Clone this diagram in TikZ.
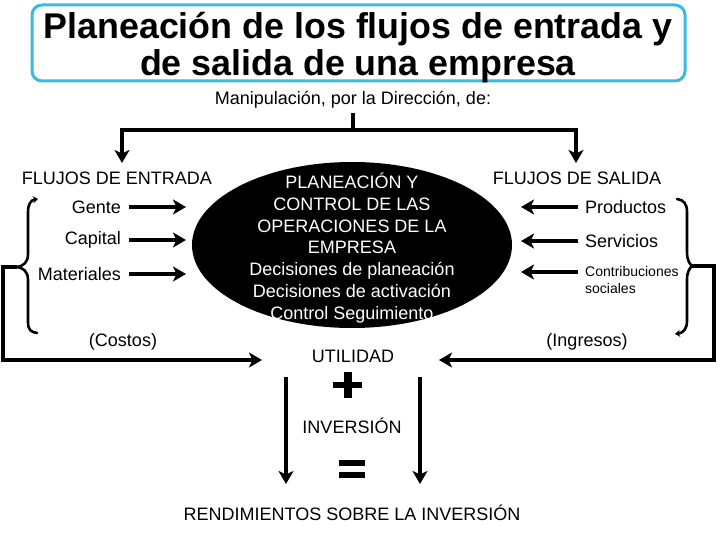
\documentclass[tikz,border=0pt]{standalone}
\usepackage{fontspec}
\setmainfont{Liberation Sans}
\usetikzlibrary{arrows.meta,shapes.geometric}
\definecolor{titlecyan}{HTML}{3BB9E0}
\begin{document}
\begin{tikzpicture}[x=1pt,y=-1pt,
  txt/.style={font=\fontsize{18}{21}\selectfont, inner sep=0pt},
  small/.style={font=\fontsize{14}{17}\selectfont, inner sep=0pt, align=left},
  conn/.style={line width=3.2pt},
  arr/.style={conn,-{Stealth[length=13pt,width=15pt,inset=3.5pt]}},
  bracestyle/.style={line width=2.6pt, line cap=round},
  solidmark/.style={fill=black}]
\useasboundingbox (0,0) rectangle (720,540);
% title
\node[draw=titlecyan, line width=3pt, rounded corners=10pt, minimum width=653pt, minimum height=76pt, inner sep=0pt] (titlebox) at (358.5,43) {};
\node[inner sep=0pt, anchor=base, font=\fontsize{35.8}{38}\selectfont\bfseries] (title1) at (358,39) {Planeación de los flujos de entrada y};
\node[inner sep=0pt, anchor=base, font=\fontsize{35.8}{38}\selectfont\bfseries] (title2) at (358,76) {de salida de una empresa};
\node[txt] (manip) at (353,100) {Manipulación, por la Dirección, de:};
% top T
\coordinate (tstem) at (353,113);
\coordinate (tbar) at (353,130);
\coordinate (etip) at (122,163);
\coordinate (stip) at (576,163);
\draw[conn] (tstem) -- (tbar);
\draw[arr] (tbar) -| (etip);
\draw[arr] (tbar) -| (stip);
\node[txt] (entrada) at (117,178) {FLUJOS DE ENTRADA};
\node[txt] (salida) at (577,178) {FLUJOS DE SALIDA};
% ellipse
\node[ellipse, fill=black, minimum width=320pt, minimum height=166pt] (core) at (352,245) {};
\node[txt, text=white, align=center, font=\fontsize{18}{21.7}\selectfont] (coretext) at (352,248)
 {PLANEACIÓN Y\\CONTROL DE LAS\\OPERACIONES DE LA\\EMPRESA\\Decisiones de planeación\\Decisiones de activación\\Control Seguimiento};
% left inputs
\node[txt, anchor=east] (gente) at (121,207) {Gente};
\node[txt, anchor=east] (capital) at (121,240) {Capital};
\node[txt, anchor=east] (materiales) at (121,274) {Materiales};
\coordinate (g1) at (129,207); \coordinate (g2) at (186,207);
\coordinate (c1) at (129,240); \coordinate (c2) at (186,240);
\coordinate (m1) at (129,274); \coordinate (m2) at (186,274);
\draw[arr] (g1) -- (g2);
\draw[arr] (c1) -- (c2);
\draw[arr] (m1) -- (m2);
% right outputs
\node[txt, anchor=west] (productos) at (585,207) {Productos};
\node[txt, anchor=west] (servicios) at (585,241) {Servicios};
\node[small, anchor=west] (contrib) at (585,280) {Contribuciones\\sociales};
\coordinate (p1) at (578,207); \coordinate (p2) at (521,207);
\coordinate (s1) at (578,241); \coordinate (s2) at (521,241);
\coordinate (k1) at (578,272); \coordinate (k2) at (521,272);
\draw[arr] (p1) -- (p2);
\draw[arr] (s1) -- (s2);
\draw[arr] (k1) -- (k2);
% left brace
\coordinate (lbtip) at (17,267);
\draw[bracestyle, {Stealth[length=5pt,width=7pt]}-] (38,199) .. controls (31,200) and (28,204) .. (28,212) -- (28,254) .. controls (28,263) and (23,266) .. (lbtip) .. controls (23,268) and (28,271) .. (28,280) -- (28,322) .. controls (28,330) and (31,332) .. (37,333);
% right brace
\coordinate (rbtip) at (692,266);
\draw[bracestyle, {Stealth[length=5pt,width=7pt]}-] (675,334) .. controls (683,333) and (687,329) .. (687,321) -- (687,280) .. controls (687,271) and (690,268) .. (rbtip) .. controls (690,264) and (687,261) .. (687,252) -- (687,212) .. controls (687,204) and (684,200) .. (677,199);
% feedback loops
\coordinate (lcorner1) at (3,267);
\coordinate (lcorner2) at (3,360);
\coordinate (utilL) at (262,360);
\coordinate (rcorner1) at (714,266);
\coordinate (rcorner2) at (714,360);
\coordinate (utilR) at (439,360);
\draw[arr] (lbtip) -- (lcorner1) -- (lcorner2) -- (utilL);
\draw[arr] (rbtip) -- (rcorner1) -- (rcorner2) -- (utilR);
\node[txt] (costos) at (123,342) {(Costos)};
\node[txt] (ingresos) at (587,342) {(Ingresos)};
% bottom
\node[txt] (utilidad) at (353,356) {UTILIDAD};
\fill[solidmark] (333,382) rectangle (362,388);
\fill[solidmark] (344,372) rectangle (352,398);
\node[txt] (inversion) at (352,426) {INVERSIÓN};
\fill[solidmark] (339,460) rectangle (365,466);
\fill[solidmark] (339,472) rectangle (365,478);
\coordinate (d1a) at (286,377); \coordinate (d1b) at (286,484);
\coordinate (d2a) at (420,377); \coordinate (d2b) at (420,484);
\draw[arr] (d1a) -- (d1b);
\draw[arr] (d2a) -- (d2b);
\node[txt] (rendim) at (352,513) {RENDIMIENTOS SOBRE LA INVERSIÓN};
\end{tikzpicture}
\end{document}
